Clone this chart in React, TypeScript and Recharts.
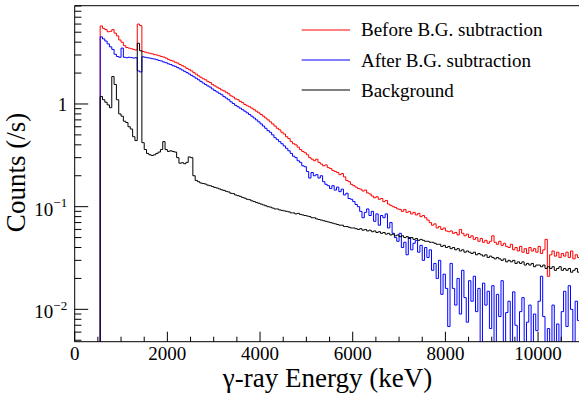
import React from 'react';
import { LineChart, Line, XAxis, YAxis, Legend } from 'recharts';

// ---------- data ----------
const BIN_START = 550; // keV, low edge of first bin
const BIN_WIDTH = 50; // keV
const ZERO_LEVEL = 0.001; // empty bins (below the log axis)

const seriesNames = ['Before B.G. subtraction', 'After B.G. subtraction', 'Background'];
const seriesColors = ['#ff0000', '#0000ff', '#000000'];

// counts per second, one value per 50 keV bin starting at 550 keV
const beforeCounts = [
  5.75, 5.45, 5.3, 5.05, 5.1, 5.3, 4.9, 4.6, 4.2, 4.0,
  3.7, 3.55, 3.5, 3.45, 3.4, 3.35, 6.0, 5.8, 3.25, 3.2,
  3.15, 3.12, 3.08, 3.02, 3.0, 2.95, 2.9, 2.86, 2.8, 2.72,
  2.66, 2.62, 2.55, 2.5, 2.42, 2.36, 2.3, 2.22, 2.16, 2.1,
  2.02, 1.95, 1.88, 1.82, 1.76, 1.72, 1.66, 1.62, 1.55, 1.5,
  1.46, 1.42, 1.37, 1.34, 1.3, 1.26, 1.2, 1.17, 1.12, 1.1,
  1.06, 1.03, 0.99, 0.96, 0.94, 0.91, 0.88, 0.85, 0.82, 0.79,
  0.76, 0.73, 0.7, 0.67, 0.64, 0.61, 0.58, 0.56, 0.53, 0.51,
  0.48, 0.46, 0.43, 0.41, 0.4, 0.38, 0.36, 0.345, 0.335, 0.32,
  0.3, 0.29, 0.28, 0.29, 0.27, 0.26, 0.25, 0.255, 0.24, 0.235,
  0.225, 0.22, 0.215, 0.205, 0.21, 0.195, 0.18, 0.175, 0.165, 0.16,
  0.155, 0.15, 0.148, 0.142, 0.145, 0.136, 0.133, 0.127, 0.122, 0.125,
  0.118, 0.12, 0.112, 0.115, 0.106, 0.103, 0.1, 0.098, 0.095, 0.094,
  0.09, 0.094, 0.088, 0.09, 0.085, 0.088, 0.083, 0.086, 0.08, 0.082,
  0.078, 0.074, 0.07, 0.066, 0.068, 0.062, 0.064, 0.06, 0.062, 0.058,
  0.057, 0.058, 0.055, 0.056, 0.053, 0.06, 0.055, 0.052, 0.054, 0.05,
  0.052, 0.048, 0.05, 0.046, 0.049, 0.045, 0.047, 0.044, 0.046, 0.052,
  0.045, 0.043, 0.046, 0.042, 0.044, 0.041, 0.04, 0.043, 0.038, 0.04,
  0.037, 0.041, 0.036, 0.039, 0.035, 0.04, 0.037, 0.039, 0.036, 0.041,
  0.035, 0.038, 0.048, 0.021, 0.034, 0.037, 0.033, 0.036, 0.032, 0.035,
  0.033, 0.036, 0.032, 0.037, 0.031, 0.034, 0.032, 0.031,
];

const afterCounts = [
  4.5, 4.3, 4.1, 3.85, 3.6, 3.4, 3.05, 2.9, 2.85, 3.5,
  2.85, 2.82, 2.85, 2.83, 2.8, 2.82, 2.1, 2.05, 2.88, 2.85,
  2.82, 2.8, 2.76, 2.74, 2.7, 2.65, 2.62, 2.56, 2.52, 2.46,
  2.42, 2.36, 2.32, 2.26, 2.2, 2.14, 2.08, 2.02, 1.96, 1.9,
  1.84, 1.78, 1.72, 1.66, 1.6, 1.55, 1.5, 1.46, 1.4, 1.35,
  1.31, 1.27, 1.23, 1.18, 1.14, 1.1, 1.05, 1.01, 0.97, 0.94,
  0.91, 0.88, 0.85, 0.82, 0.79, 0.76, 0.73, 0.7, 0.67, 0.64,
  0.61, 0.58, 0.55, 0.53, 0.5, 0.47, 0.45, 0.43, 0.41, 0.39,
  0.37, 0.35, 0.33, 0.31, 0.3, 0.28, 0.27, 0.25, 0.245, 0.22,
  0.19, 0.215, 0.2, 0.205, 0.19, 0.2, 0.175, 0.165, 0.16, 0.15,
  0.16, 0.145, 0.155, 0.14, 0.148, 0.13, 0.135, 0.12, 0.118, 0.112,
  0.105, 0.1, 0.09, 0.078, 0.088, 0.095, 0.082, 0.09, 0.072, 0.085,
  0.066, 0.082, 0.078, 0.085, 0.062, 0.07, 0.055, 0.05, 0.046, 0.055,
  0.04, 0.045, 0.034, 0.05, 0.038, 0.044, 0.047, 0.036, 0.042, 0.03,
  0.04, 0.032, 0.038, 0.024, 0.028, 0.02, 0.03, 0.014, 0.022, 0.016,
  0.0068, 0.028, 0.016, 0.011, 0.02, 0.009, 0.024, 0.013, 0.0075, 0.019,
  0.012, 0.021, 0.0095, 0.016, 0.004, 0.018, 0.011, 0.015, 0.0065, 0.017,
  0.004, 0.014, 0.0085, 0.019, 0.004, 0.0093, 0.012, 0.004, 0.0148, 0.007,
  0.004, 0.0095, 0.013, 0.004, 0.0075, 0.011, 0.004, 0.009, 0.0062, 0.012,
  0.021, 0.0085, 0.004, 0.0065, 0.004, 0.011, 0.004, 0.0072, 0.004, 0.0095,
  0.015, 0.0068, 0.017, 0.01, 0.004, 0.012, 0.0078, 0.0098,
];

const backgroundCounts = [
  1.18, 1.1, 1.04, 0.98, 0.92, 1.85, 1.55, 1.1, 0.8, 0.76,
  0.68, 0.66, 0.6, 0.57, 0.48, 0.44, 3.9, 3.3, 0.42, 0.36,
  0.33, 0.32, 0.315, 0.32, 0.33, 0.34, 0.36, 0.43, 0.36, 0.345,
  0.35, 0.345, 0.34, 0.3, 0.265, 0.268, 0.262, 0.27, 0.305, 0.3,
  0.2, 0.18, 0.175, 0.17, 0.168, 0.166, 0.162, 0.16, 0.157, 0.154,
  0.152, 0.149, 0.146, 0.144, 0.141, 0.139, 0.135, 0.134, 0.13, 0.128,
  0.126, 0.123, 0.121, 0.118, 0.117, 0.114, 0.112, 0.11, 0.108, 0.106,
  0.104, 0.102, 0.1, 0.099, 0.097, 0.095, 0.095, 0.093, 0.092, 0.091,
  0.09, 0.089, 0.087, 0.087, 0.085, 0.086, 0.084, 0.083, 0.082, 0.081,
  0.08, 0.078, 0.078, 0.076, 0.075, 0.074, 0.073, 0.072, 0.071, 0.07,
  0.069, 0.068, 0.067, 0.066, 0.066, 0.064, 0.064, 0.063, 0.062, 0.062,
  0.061, 0.06, 0.061, 0.059, 0.06, 0.058, 0.059, 0.057, 0.058, 0.056,
  0.057, 0.055, 0.056, 0.054, 0.055, 0.053, 0.054, 0.052, 0.053, 0.051,
  0.052, 0.05, 0.051, 0.049, 0.05, 0.048, 0.049, 0.047, 0.048, 0.047,
  0.046, 0.046, 0.045, 0.045, 0.044, 0.043, 0.043, 0.041, 0.042, 0.04,
  0.041, 0.039, 0.04, 0.038, 0.039, 0.037, 0.038, 0.036, 0.037, 0.036,
  0.035, 0.036, 0.034, 0.035, 0.034, 0.033, 0.034, 0.032, 0.033, 0.032,
  0.031, 0.032, 0.031, 0.03, 0.031, 0.029, 0.03, 0.029, 0.03, 0.028,
  0.029, 0.028, 0.029, 0.027, 0.028, 0.027, 0.028, 0.026, 0.027, 0.027,
  0.026, 0.027, 0.025, 0.026, 0.025, 0.026, 0.024, 0.025, 0.026, 0.024,
  0.025, 0.024, 0.025, 0.023, 0.024, 0.025, 0.023, 0.024,
];

const X_MAJOR_TICKS = [0, 2000, 4000, 6000, 8000, 10000];
const X_MINOR_TICKS = [500, 1000, 1500, 2500, 3000, 3500, 4500, 5000, 5500, 6500, 7000, 7500, 8500, 9000, 9500, 10500];
const Y_MAJOR_TICKS = [0.01, 0.1, 1];
const Y_MAJOR_LABELS = [
  { base: '10', exp: '\u22122' },
  { base: '10', exp: '\u22121' },
  { base: '1', exp: '' },
];
const Y_MINOR_TICKS = [
  0.005, 0.006, 0.007, 0.008, 0.009,
  0.02, 0.03, 0.04, 0.05, 0.06, 0.07, 0.08, 0.09,
  0.2, 0.3, 0.4, 0.5, 0.6, 0.7, 0.8, 0.9,
  2, 3, 4, 5, 6, 7, 8, 9,
];
const X_DOMAIN = [0, 11000];
const Y_DOMAIN = [0.00484, 9.06];

const X_TITLE = '\u03b3-ray Energy (keV)';
const Y_TITLE = 'Counts (/s)';

// ---------- table built from the arrays ----------
const nBins = beforeCounts.length;
const data: any[] = [{ e: 0, before: ZERO_LEVEL, after: ZERO_LEVEL, bg: ZERO_LEVEL }];
for (let i = 0; i < nBins; i++) {
  data.push({
    e: BIN_START + i * BIN_WIDTH,
    before: beforeCounts[i],
    after: afterCounts[i],
    bg: backgroundCounts[i],
  });
}
data.push({
  e: BIN_START + nBins * BIN_WIDTH,
  before: beforeCounts[nBins - 1],
  after: afterCounts[nBins - 1],
  bg: backgroundCounts[nBins - 1],
});

const FONT = '"Liberation Serif", "Times New Roman", Times, serif';
const txt = (size: number) => ({ fontFamily: FONT, fontSize: size, fill: '#000' });

const XTick = (props: any) => {
  const { x, y, payload } = props;
  const v = payload.value;
  const major = X_MAJOR_TICKS.includes(v);
  return (
    <g>
      <line x1={x} x2={x} y1={y} y2={y - (major ? 10 : 5)} stroke="#000" strokeWidth={1} />
      {major && (
        <text x={x} y={y + 18.3} textAnchor="middle" style={txt(19)}>
          {String(v)}
        </text>
      )}
    </g>
  );
};

const YTick = (props: any) => {
  const { x, y, payload } = props;
  const v = payload.value;
  const mi = Y_MAJOR_TICKS.indexOf(v);
  const major = mi >= 0;
  const lab = major ? Y_MAJOR_LABELS[mi] : null;
  return (
    <g>
      <line x1={x} x2={x + (major ? 13.5 : 6.7)} y1={y} y2={y} stroke="#000" strokeWidth={1} />
      {lab && (
        <text x={x - 7.5} y={y + (lab.exp ? 9 : 7)} textAnchor="end" style={txt(19)}>
          {lab.base}
          {lab.exp && (
            <tspan dy={-8.5} style={{ fontSize: 13 }}>
              {lab.exp}
            </tspan>
          )}
        </text>
      )}
    </g>
  );
};

const renderXTitle = () => (
  <text x={327.5} y={386.7} textAnchor="middle" style={txt(27)}>
    {X_TITLE}
  </text>
);

const renderYTitle = () => (
  <text transform="translate(25,172.5) rotate(-90)" textAnchor="middle" style={txt(27)}>
    {Y_TITLE}
  </text>
);

const renderLegend = () => (
  <svg width={590} height={110} style={{ display: 'block' }}>
    {seriesNames.map((name, i) => (
      <g key={name}>
        <line x1={301.7} x2={350} y1={30 + 30 * i} y2={30 + 30 * i} stroke={seriesColors[i]} strokeWidth={1} />
        <text x={361} y={36.2 + 30.3 * i} style={txt(19)}>
          {name}
        </text>
      </g>
    ))}
  </svg>
);

export default function App() {
  return (
    <div style={{ position: 'absolute', left: 0, top: 0, width: 579, height: 396, overflow: 'hidden', background: '#fff' }}>
      <LineChart width={590} height={396} data={data} margin={{ top: 4.7, right: 5.6, bottom: 0, left: 0 }}>
        <XAxis
          xAxisId="bottom"
          type="number"
          dataKey="e"
          domain={X_DOMAIN}
          allowDataOverflow
          ticks={[...X_MAJOR_TICKS, ...X_MINOR_TICKS]}
          interval={0}
          height={54.3}
          tickSize={0}
          tickMargin={0}
          tickLine={false}
          tick={<XTick />}
          axisLine={{ stroke: '#000', strokeWidth: 1 }}
          label={renderXTitle}
        />
        <XAxis
          xAxisId="top"
          orientation="top"
          type="number"
          dataKey="e"
          domain={X_DOMAIN}
          allowDataOverflow
          height={1}
          tick={false}
          tickLine={false}
          axisLine={{ stroke: '#000', strokeWidth: 1 }}
        />
        <YAxis
          type="number"
          scale="log"
          domain={Y_DOMAIN}
          allowDataOverflow
          ticks={[...Y_MAJOR_TICKS, ...Y_MINOR_TICKS]}
          interval={0}
          width={74.7}
          tickSize={0}
          tickMargin={0}
          tickLine={false}
          tick={<YTick />}
          axisLine={{ stroke: '#000', strokeWidth: 1 }}
          label={renderYTitle}
        />
        <Legend
          content={renderLegend}
          layout="horizontal"
          verticalAlign="middle"
          align="center"
          wrapperStyle={{ left: 0, top: 0, width: 590, height: 110 }}
        />
        <Line
          xAxisId="bottom"
          type="stepAfter"
          dataKey="before"
          name={seriesNames[0]}
          stroke={seriesColors[0]}
          strokeWidth={1}
          dot={false}
          activeDot={false}
          isAnimationActive={false}
        />
        <Line
          xAxisId="bottom"
          type="stepAfter"
          dataKey="after"
          name={seriesNames[1]}
          stroke={seriesColors[1]}
          strokeWidth={1}
          dot={false}
          activeDot={false}
          isAnimationActive={false}
        />
        <Line
          xAxisId="bottom"
          type="stepAfter"
          dataKey="bg"
          name={seriesNames[2]}
          stroke={seriesColors[2]}
          strokeWidth={1}
          dot={false}
          activeDot={false}
          isAnimationActive={false}
        />
      </LineChart>
    </div>
  );
}
